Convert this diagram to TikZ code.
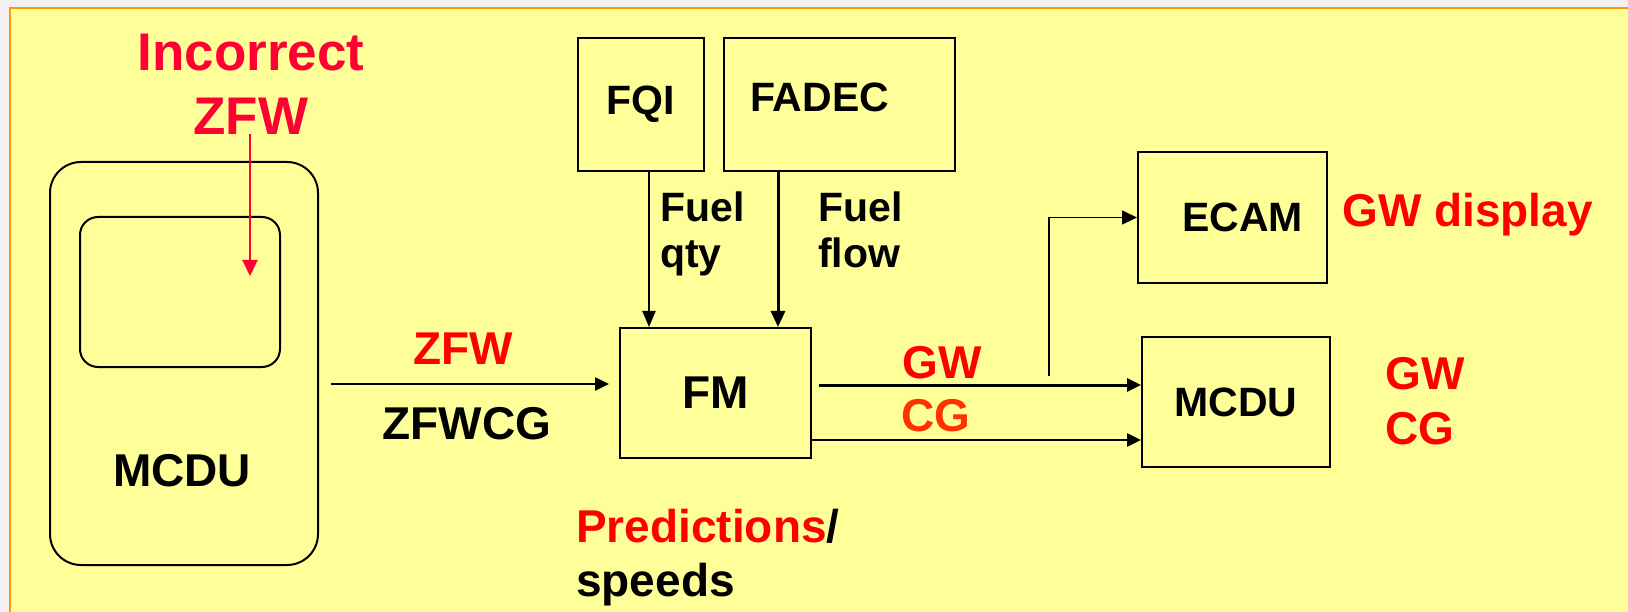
\documentclass[tikz,border=0pt]{standalone}
\usepackage{fontspec}
\setmainfont{Liberation Sans}
\usetikzlibrary{arrows.meta,calc}

\definecolor{padyellow}{HTML}{FFFF99}
\definecolor{pagegray}{HTML}{F3F0F2}
\definecolor{frameorange}{HTML}{FF9900}
\definecolor{alertred}{HTML}{FF0033}
\definecolor{lblred}{HTML}{FF0000}
\definecolor{cgorange}{HTML}{FF3300}

\newcommand{\fnthuge}{\fontsize{53}{64}\selectfont\bfseries}
\newcommand{\fntbig}{\fontsize{46}{54}\selectfont\bfseries}
\newcommand{\fntsmall}{\fontsize{41}{46}\selectfont\bfseries}

\tikzset{
    blk/.style={draw, line width=2pt, inner sep=0pt, font=\fntsmall},
    txt/.style={inner sep=0pt, font=\fntbig},
    arr/.style={line width=2.5pt, -{Triangle[length=14pt,width=13pt]}},
    arrthick/.style={arr, line width=3pt},
    arrthin/.style={line width=1.6pt, -{Triangle[length=15pt,width=14pt]}}
}

\begin{document}
\begin{tikzpicture}[x=1pt,y=-1pt]

% Page and pad
\useasboundingbox (0,0) rectangle (1628,612);
\fill[pagegray] (0,0) rectangle (1628,612);
\fill[padyellow] (10,8) rectangle (1628,612);
\draw[frameorange, line width=2pt] (10,612) -- (10,8) -- (1628,8);

% Left MCDU
\node[draw, line width=2pt, rounded corners=31pt, minimum width=268pt, minimum height=403pt] (mcdul) at (184,363.5) {};
\node[draw, line width=2pt, rounded corners=18pt, minimum width=200pt, minimum height=150pt] (screen) at (180,292) {};
\node[txt] (mcdultxt) at (182,470.5) {MCDU};

% Wrong entry
\node[txt, font=\fnthuge, text=alertred, align=center] (incorrect) at (251,84) {Incorrect\\ZFW};
\coordinate (hit) at (250,276);
\draw[alertred, line width=2pt, -{Triangle[length=16pt,width=15pt]}] (hit |- incorrect.south) -- (hit);

% Sources
\node[blk, minimum width=126pt, minimum height=133pt] (fqi) at (641,104.5) {FQI};
\node[blk, minimum width=231pt, minimum height=133pt,
      label={[font=\fntsmall, inner sep=0pt, xshift=-20pt, yshift=7pt]center:FADEC}] (fadec) at (839.5,104.5) {};

% Flight management
\node[blk, font=\fntbig, minimum width=191pt, minimum height=130pt] (fm) at (715.5,393) {FM};

% Receivers
\node[blk, minimum width=189pt, minimum height=131pt,
      label={[font=\fntsmall, inner sep=0pt, xshift=10pt]center:ECAM}] (ecam) at (1232.5,217.5) {};
\node[blk, minimum width=188pt, minimum height=130pt] (mcdur) at (1236,402) {MCDU};

% Fuel inputs
\draw[line width=2pt, -{Triangle[length=16pt,width=13pt]}] ([xshift=8pt]fqi.south) -- ([xshift=8pt]fqi.south |- fm.north);
\draw[line width=3pt, -{Triangle[length=16pt,width=14pt]}] ([xshift=-61.5pt]fadec.south) -- ([xshift=-61.5pt]fadec.south |- fm.north);
\node[txt, font=\fntsmall, align=left, anchor=north west] (fuelqty) at (660,192) {Fuel\\qty};
\node[txt, font=\fntsmall, align=left, anchor=north west] (fuelflow) at (818,192) {Fuel\\flow};

% ZFW entry
\draw[arr, shorten <=12pt, shorten >=10pt] ([yshift=9pt]fm.west -| mcdul.east) -- ([yshift=9pt]fm.west);
\node[txt, text=lblred] (zfw) at (463,348.5) {ZFW};
\node[txt] (zfwcg) at (467,423.5) {ZFWCG};

% Outputs
\draw[arrthick, shorten <=7pt] ([yshift=17pt]mcdur.west -| fm.east) -- ([yshift=17pt]mcdur.west);
\draw[arr] ([yshift=-38pt]mcdur.west -| fm.east) -- ([yshift=-38pt]mcdur.west);
\coordinate (split) at (1049,376);
\draw[arrthin] (split) |- (ecam.west);
\node[txt, text=lblred] (gw) at (942,362.5) {GW};
\node[txt, text=cgorange] (cg) at (936,416) {CG};

% Results
\node[txt, text=lblred, anchor=base west] (gwdisp) at (1342,227) {GW display};
\node[txt, text=lblred, align=left, anchor=north west, font=\fontsize{46}{55}\selectfont\bfseries] (gwcg) at (1385,357) {GW\\CG};
\node[txt, align=left, anchor=north west] (pred) at (576,509) {{\color{lblred}Predictions}/\\speeds};

\end{tikzpicture}
\end{document}
